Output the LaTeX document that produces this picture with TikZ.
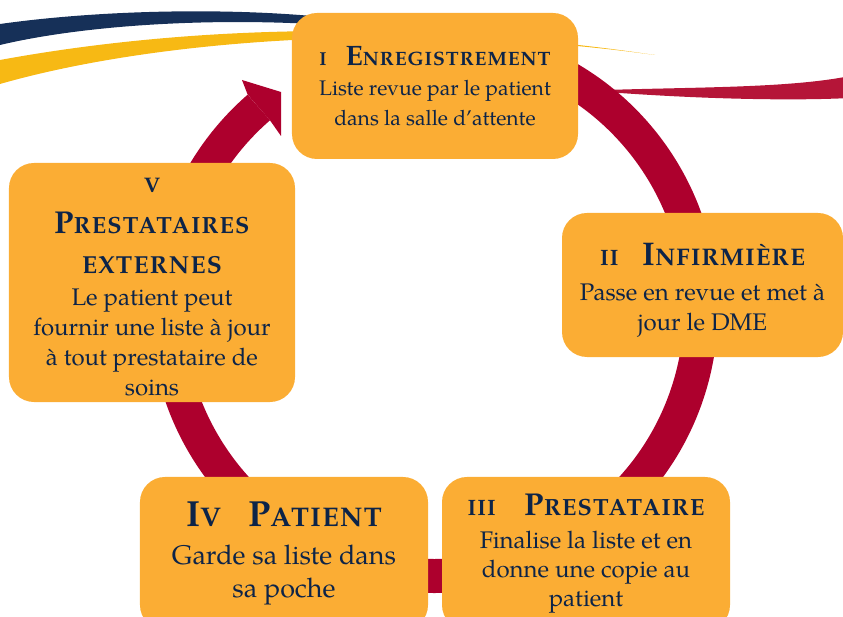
\documentclass[tikz,border=0pt]{standalone}
\usepackage{fontspec}
\setmainfont{TeX Gyre Pagella}
\usetikzlibrary{calc}

\definecolor{ringred}{RGB}{173,0,45}
\definecolor{boxorange}{RGB}{251,173,52}
\definecolor{inknavy}{RGB}{13,36,72}
\definecolor{swnavy}{RGB}{22,48,88}
\definecolor{swgold}{RGB}{247,185,20}
\definecolor{swred}{RGB}{181,21,56}

% heading letters: big capital + small capitals
\newcommand\fsz[1]{\fontsize{#1}{#1}\selectfont}
\newcommand\hsm[2]{{\bfseries\fsz{#1}\addfontfeature{LetterSpace=5}#2}}
\newcommand\scw[4]{{\bfseries\fsz{#1}#3}{\bfseries\fsz{#2}\addfontfeature{LetterSpace=5}#4}}

\tikzset{
  stepbox/.style={fill=boxorange, rounded corners=0.75cm, inner sep=0pt, outer sep=0pt,
    text=inknavy, align=center},
  ringline/.style={draw=ringred, line width=1.02cm}
}

\begin{document}
\begin{tikzpicture}[x=0.03cm,y=0.03cm]
\useasboundingbox (0,0) rectangle (843,616);
\clip (0,0) rectangle (843,616);

% swooshes at the top
\fill[swnavy] (0,592) .. controls (100,606) and (220,608) .. (312,600) -- (312,592)
  .. controls (200,598) and (80,590) .. (0,571) -- cycle;
\fill[swgold] (0,556) .. controls (120,578) and (350,606) .. (655,561)
  .. controls (400,596) and (150,575) .. (0,532) -- cycle;
\fill[swred] (606,526) .. controls (700,529) and (790,528) .. (850,540) -- (850,518)
  .. controls (790,515) and (700,517) .. (606,524) -- cycle;

% the cycle arrow
\coordinate (O) at (434,307);
\draw[ringline] ($(O)+(131:267)$) arc[start angle=131, end angle=435, radius=267];
\fill[ringred] ($(O)+(131:284)$) -- (242,536) -- (281,524) -- (281,480) -- ($(O)+(131:250)$) -- cycle;

% the five steps
\node[stepbox, minimum width=8.58cm, minimum height=4.38cm, font=\fontsize{18}{25}\selectfont] (enreg) at (435,530)
  {\hsm{16}{I}\hspace{0.9em}\scw{24}{16.5}{E}{NREGISTREMENT}\\[1pt]
   Liste revue par le patient\\ dans la salle d’attente};
\node[stepbox, minimum width=8.43cm, minimum height=4.32cm, font=\fontsize{20.5}{25.6}\selectfont] (infirm) at (702.5,331)
  {\rule{0pt}{28pt}\hsm{19}{II}\hspace{1em}\scw{28}{20.5}{I}{NFIRMIÈRE}\\[5pt]
   Passe en revue et met à\\ jour le DME};
\node[stepbox, minimum width=8.64cm, minimum height=4.59cm, font=\fontsize{20.5}{25}\selectfont] (prest) at (586,62.5)
  {\hsm{19}{III}\hspace{1.2em}\scw{27}{20}{P}{RESTATAIRE}\\[3pt]
   Finalise la liste et en\\ donne une copie au\\ patient};
\node[stepbox, minimum width=8.64cm, minimum height=4.59cm, font=\fontsize{23}{28}\selectfont] (patient) at (284,62.5)
  {\scw{31}{23}{I}{V}\hspace{1em}\scw{31}{23}{P}{ATIENT}\\[4pt]
   Garde sa liste dans\\ sa poche};
\node[stepbox, minimum width=8.58cm, minimum height=7.17cm, font=\fontsize{20.5}{25.5}\selectfont] (externe) at (152,333.5)
  {\rule{0pt}{19.5pt}\hsm{18}{V}\\[10pt] \scw{27}{20}{P}{RESTATAIRES}\\[8pt] \hsm{21}{EXTERNES}\\[2pt]
   Le patient peut\\ fournir une liste à jour\\ à tout prestataire de\\ soins};
\end{tikzpicture}
\end{document}
